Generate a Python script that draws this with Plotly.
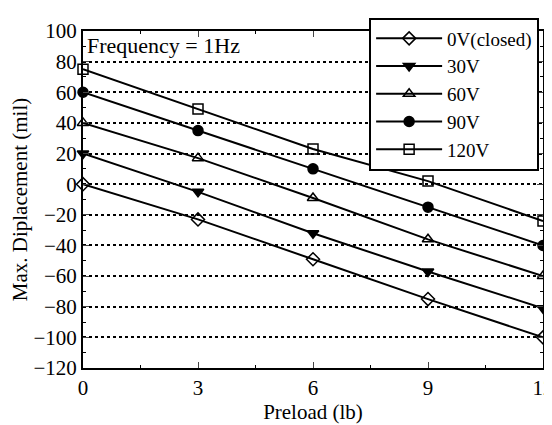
import plotly.graph_objects as go

# preload (lb) on x, max displacement (mil) on y
preload = [0, 3, 6, 9, 12]
v0 = [0, -23, -49, -75, -100]
v30 = [20, -5, -32, -57, -81]
v60 = [40, 17, -9, -36, -60]
v90 = [60, 35, 10, -15, -40]
v120 = [75, 49, 23, 2, -24]

names = ["0V(closed)", "30V", "60V", "90V", "120V"]
symbols = ["diamond-open", "triangle-down", "triangle-up-open", "circle", "square-open"]

fig = go.Figure()
for name, ys, sym in zip(names, [v0, v30, v60, v90, v120], symbols):
    fig.add_trace(go.Scatter(
        x=preload, y=ys, name=name, mode="lines+markers",
        line=dict(color="black", width=2),
        marker=dict(symbol=sym, size=10, color="black",
                    line=dict(color="black", width=1.5)),
        cliponaxis=False,
    ))

font = "Liberation Serif, Times New Roman, serif"

fig.add_annotation(x=0.005, y=1.0, xref="paper", yref="paper",
                   xanchor="left", yanchor="top", showarrow=False,
                   text="Frequency = 1Hz",
                   font=dict(family=font, size=22, color="black"))

# page body adds an 8px offset, so the figure is 8px smaller than the window
fig.update_layout(
    width=544, height=417,
    margin=dict(l=75, r=9, t=12, b=53),
    paper_bgcolor="white", plot_bgcolor="white",
    font=dict(family=font, color="black", size=21),
    legend=dict(x=0.622, y=1.04, xanchor="left", yanchor="top",
                bgcolor="white", bordercolor="black", borderwidth=2,
                font=dict(family=font, size=19, color="black"),
                itemwidth=66, tracegroupgap=0),
    xaxis=dict(
        range=[0, 12], tickvals=preload, ticks="inside", ticklen=6,
        showline=True, linecolor="black", linewidth=2, mirror="ticks",
        showgrid=False, zeroline=False, automargin="bottom",
        ticklabeloverflow="allow",
        tickfont=dict(family=font, size=21),
        title=dict(text="Preload (lb)", font=dict(family=font, size=21), standoff=1),
        minor=dict(dtick=1.5, ticks="inside", ticklen=3, tickcolor="black"),
    ),
    yaxis=dict(
        range=[-120, 100], dtick=20, ticks="inside", ticklen=6,
        showline=True, linecolor="black", linewidth=2, mirror="ticks",
        showgrid=True, gridcolor="black", griddash="dot", gridwidth=1.5,
        zeroline=False, automargin=False,
        tickfont=dict(family=font, size=21),
        title=dict(text="Max. Diplacement (mil)", font=dict(family=font, size=21)),
        minor=dict(dtick=10, ticks="inside", ticklen=3, tickcolor="black", showgrid=False),
    ),
    showlegend=True,
)

fig.write_html("out.html")
